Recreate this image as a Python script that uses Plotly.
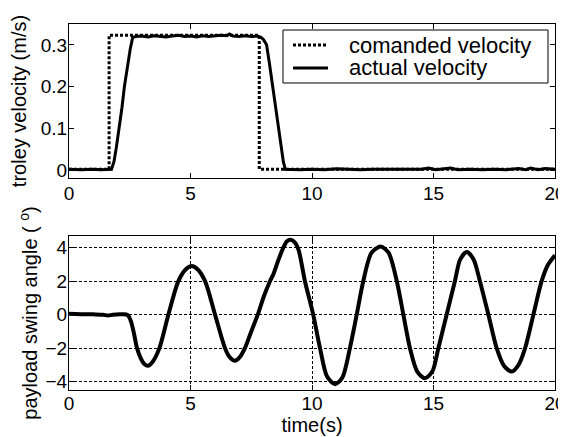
import plotly.graph_objects as go

# ---- data ----
time_cmd = [0, 1.65, 1.65, 7.83, 7.83, 20]
vel_cmd = [0.002, 0.002, 0.323, 0.323, 0.002, 0.002]

time_act = [0, 0.5, 1.0, 1.3, 1.75, 1.85, 1.95, 2.07, 2.18, 2.28,
            2.4, 2.52, 2.62, 2.75, 3.0, 3.25, 3.5, 3.75, 4.0, 4.25,
            4.5, 4.75, 5.0, 5.25, 5.5, 5.75, 6.0, 6.25, 6.5, 6.6,
            6.75, 7.0, 7.25, 7.5, 7.75, 7.9, 8.0, 8.13, 8.25, 8.38,
            8.5, 8.61, 8.72, 8.82, 8.9, 9.5, 10.0, 10.5, 11.0, 11.5,
            12.0, 12.5, 13.0, 13.5, 14.0, 14.5, 14.8, 15.1, 15.7, 16.0,
            16.5, 17.0, 17.5, 18.0, 18.5, 18.8, 19.0, 19.3, 19.6, 20.0]
vel_act = [0.002, 0.001, 0.002, 0.001, 0.002, 0.02, 0.055, 0.1, 0.15, 0.2,
           0.25, 0.29, 0.318, 0.32, 0.321, 0.319, 0.322, 0.32, 0.319, 0.321,
           0.323, 0.32, 0.321, 0.319, 0.322, 0.32, 0.321, 0.323, 0.322, 0.326,
           0.321, 0.32, 0.322, 0.32, 0.321, 0.318, 0.313, 0.3, 0.255, 0.2,
           0.15, 0.1, 0.055, 0.02, 0.002, 0.001, 0.002, 0.001, 0.003, 0.002,
           0.001, 0.002, 0.002, 0.001, 0.002, 0.002, 0.005, 0.001, 0.005, 0.001,
           0.002, 0.001, 0.002, 0.001, 0.004, 0.001, 0.005, 0.001, 0.004, 0.002]

time_swing = [0, 0.5, 1.0, 1.4, 1.6, 1.8, 2.2, 2.42, 2.55, 2.67,
              2.8, 2.95, 3.1, 3.26, 3.45, 3.72, 4.09, 4.5, 4.8, 5.05,
              5.3, 5.6, 6.01, 6.42, 6.62, 6.83, 7.02, 7.24, 7.5, 7.77,
              8.02, 8.27, 8.42, 8.6, 8.82, 8.97, 9.12, 9.3, 9.45, 9.71,
              10.05, 10.33, 10.62, 10.95, 11.25, 11.56, 11.84, 12.11, 12.45, 12.83,
              13.15, 13.49, 13.76, 14.03, 14.33, 14.65, 14.95, 15.2, 15.54, 15.88,
              16.1, 16.37, 16.65, 16.91, 17.26, 17.6, 17.9, 18.22, 18.5, 18.77,
              19.11, 19.45, 19.7, 20.0]
angle_swing = [0.05, 0.03, 0.02, 0.0, -0.05, 0.0, 0.02, -0.02, -0.4, -1.1,
               -2.0, -2.6, -2.95, -3.05, -2.8, -2.0, 0.0, 2.0, 2.7, 2.9,
               2.7, 2.0, 0.0, -2.0, -2.55, -2.75, -2.55, -2.0, -1.0, 0.0,
               1.1, 2.0, 2.45, 3.2, 4.0, 4.38, 4.47, 4.3, 3.85, 2.0,
               0.0, -2.0, -3.7, -4.15, -3.75, -2.0, 0.0, 2.0, 3.7, 4.07,
               3.7, 2.0, 0.0, -2.0, -3.4, -3.8, -3.4, -2.0, 0.0, 2.0,
               3.3, 3.74, 3.3, 2.0, 0.0, -2.0, -3.05, -3.4, -3.0, -2.0,
               0.0, 2.0, 2.95, 3.55]

x_ticks = [0, 5, 10, 15, 20]
v_ticks = [0, 0.1, 0.2, 0.3]
v_ticktext = ["0", "0.1", "0.2", "0.3"]
a_ticks = [-4, -2, 0, 2, 4]
legend_labels = ["comanded velocity", "actual velocity"]

FONT = "Liberation Sans, Arial, sans-serif"

fig = go.Figure()
fig.add_trace(go.Scatter(x=time_cmd, y=vel_cmd, mode="lines", name=legend_labels[0],
                         line=dict(color="black", width=3, dash="3px,2px"),
                         xaxis="x", yaxis="y", showlegend=False))
fig.add_trace(go.Scatter(x=time_act, y=vel_act, mode="lines", name=legend_labels[1],
                         line=dict(color="black", width=3),
                         xaxis="x", yaxis="y", showlegend=False))
fig.add_trace(go.Scatter(x=time_swing, y=angle_swing, mode="lines", showlegend=False,
                         line=dict(color="black", width=4, shape="spline", smoothing=0.8),
                         xaxis="x2", yaxis="y2"))

axis_common = dict(showline=True, linecolor="black", linewidth=1, mirror="allticks",
                   ticks="inside", ticklen=5, tickcolor="black", zeroline=False,
                   automargin=False, ticklabeloverflow="allow")

# legend box drawn in paper coordinates of the plotting area
lg_x0, lg_x1, lg_y0, lg_y1 = 0.4403, 0.9856, 0.8388, 0.9836
row_y = [0.9426, 0.8798]
sample_x0, sample_x1, text_x = 0.4609, 0.5329, 0.572

shapes = [dict(type="rect", xref="paper", yref="paper", x0=lg_x0, x1=lg_x1, y0=lg_y0, y1=lg_y1,
               line=dict(color="black", width=1), fillcolor="white", layer="above")]
shapes.append(dict(type="line", xref="paper", yref="paper", x0=sample_x0, x1=sample_x1,
                   y0=row_y[0], y1=row_y[0], line=dict(color="black", width=3, dash="3px,2px"),
                   layer="above"))
shapes.append(dict(type="line", xref="paper", yref="paper", x0=sample_x0, x1=sample_x1,
                   y0=row_y[1], y1=row_y[1], line=dict(color="black", width=3), layer="above"))
annotations = [dict(text=lbl, xref="paper", yref="paper", x=text_x, y=yy, xanchor="left",
                    yanchor="middle", showarrow=False, font=dict(size=22, family=FONT, color="black"))
               for lbl, yy in zip(legend_labels, row_y)]

fig.update_layout(
    width=558, height=429,
    margin=dict(l=61, r=11, t=16, b=47),
    paper_bgcolor="white", plot_bgcolor="white",
    font=dict(family=FONT, color="black", size=20),
    showlegend=False,
    shapes=shapes,
    annotations=annotations,
    xaxis=dict(domain=[0, 1], anchor="y", range=[0, 20], tickvals=x_ticks,
               tickfont=dict(size=19), showgrid=False, ticklabelstandoff=-2, **axis_common),
    yaxis=dict(domain=[0.5792, 1], anchor="x", range=[-0.019, 0.35], tickvals=v_ticks,
               ticktext=v_ticktext, tickfont=dict(size=19), showgrid=False, ticklabelstandoff=-3,
               title=dict(text="troley velocity (m/s)", font=dict(size=20), standoff=10),
               **axis_common),
    xaxis2=dict(domain=[0, 1], anchor="y2", range=[0, 20], tickvals=x_ticks,
                tickfont=dict(size=19), showgrid=True, gridcolor="black", gridwidth=1,
                griddash="3px,2px", ticklabelstandoff=-4,
                title=dict(text="time(s)", font=dict(size=20), standoff=0),
                **axis_common),
    yaxis2=dict(domain=[0, 0.4208], anchor="x2", range=[-4.5, 4.7], tickvals=a_ticks,
                tickfont=dict(size=19), showgrid=True, gridcolor="black", gridwidth=1,
                griddash="3px,2px", ticklabelstandoff=-3,
                title=dict(text="payload swing angle ( <sup>o</sup>)", font=dict(size=20), standoff=2),
                **axis_common),
)

fig.write_html("out.html")
